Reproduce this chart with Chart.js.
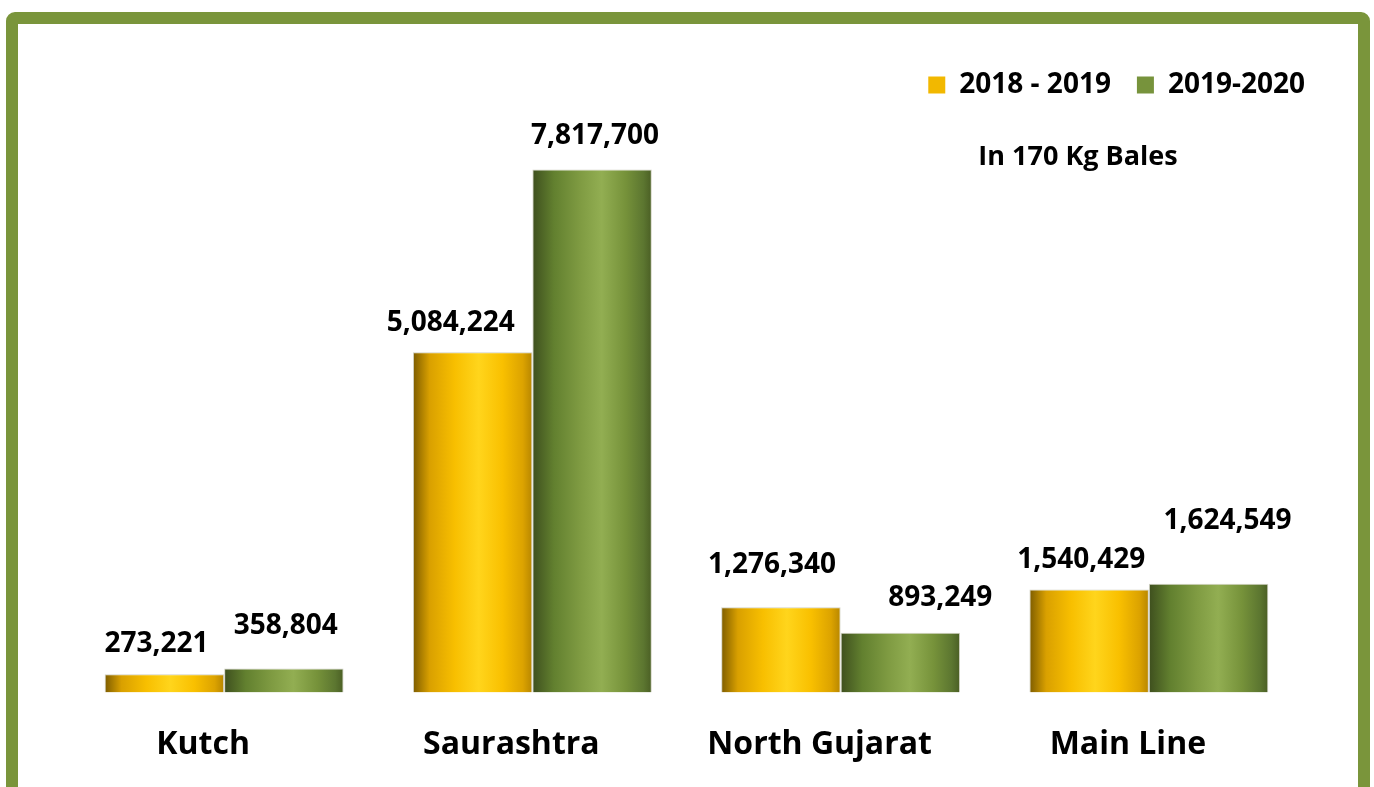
<!DOCTYPE html>
<html>
<head>
<meta charset="utf-8">
<script src="https://cdn.jsdelivr.net/npm/chart.js@4"></script>
<style>
  html, body { margin: 0; padding: 0; background: #fff; overflow: hidden; }
  #frame {
    position: absolute; left: 6px; top: 12px;
    width: 1340px; height: 820px;
    border: 12px solid #7a953b; border-radius: 9px;
    background: #fff;
  }
  #chart { position: absolute; left: 0; top: 0; }
</style>
</head>
<body>
<div id="frame"></div>
<canvas id="chart" width="1374" height="787"></canvas>
<script>
/* global Chart */
const regions = ['Kutch', 'Saurashtra', 'North Gujarat', 'Main Line'];
const season1 = [273221, 5084224, 1276340, 1540429];
const season2 = [358804, 7817700, 893249, 1624549];
const seriesNames = ['2018 - 2019', '2019-2020'];
const unitNote = 'In 170 Kg Bales';

// where each value label sits relative to the top-centre of its bar: [dx, dy above]
const labelNudge = [
  [[-8, 30], [-22, 29], [-9, 42], [-8, 29]],
  [[2, 43], [3, 33], [40, 35], [19, 63]]
];

const FONT = "'Open Sans', 'DejaVu Sans', sans-serif";
const CAT_PCT = 0.775;

const yellowStops = [[0, '#7d5c00'], [0.14, '#d9a000'], [0.35, '#f8bf00'], [0.55, '#ffd51c'], [0.75, '#f9c000'], [0.92, '#dca300'], [1, '#b78600']];
const greenStops = [[0, '#3e4f1e'], [0.18, '#62802f'], [0.4, '#7f9b42'], [0.58, '#92ae52'], [0.78, '#76923a'], [0.93, '#5c7630'], [1, '#4a5e24']];

// horizontal "cylinder" gradient for each bar, computed from the x scale
function barGradient(stops) {
  return function (ctx) {
    const chart = ctx.chart;
    const xs = chart.scales.x;
    if (!chart.chartArea || !xs) return stops[3][1];
    const n = regions.length;
    const catW = (xs.right - xs.left) / n;
    const barW = catW * CAT_PCT / 2;
    const center = xs.getPixelForValue(ctx.dataIndex);
    const left = center - catW * CAT_PCT / 2 + ctx.datasetIndex * barW;
    const g = chart.ctx.createLinearGradient(left, 0, left + barW, 0);
    stops.forEach(s => g.addColorStop(s[0], s[1]));
    return g;
  };
}

const valueLabels = {
  id: 'valueLabels',
  afterDatasetsDraw(chart) {
    const c = chart.ctx;
    c.save();
    c.font = 'bold 28px ' + FONT;
    c.fillStyle = '#000';
    c.textAlign = 'center';
    c.textBaseline = 'middle';
    chart.data.datasets.forEach((ds, di) => {
      chart.getDatasetMeta(di).data.forEach((el, i) => {
        const [dx, dy] = labelNudge[di][i];
        c.fillText(ds.data[i].toLocaleString('en-US'), el.x + dx, el.y - dy);
      });
    });
    c.restore();
  }
};

const unitText = {
  id: 'unitText',
  afterDraw(chart) {
    const c = chart.ctx;
    c.save();
    c.font = 'bold 27px ' + FONT;
    c.fillStyle = '#000';
    c.textAlign = 'center';
    c.textBaseline = 'middle';
    c.fillText(unitNote, chart.width - 296, 157);
    c.restore();
  }
};

// push the legend a little to the right, past the plot edge
const legendShift = {
  id: 'legendShift',
  afterLayout(chart) {
    if (chart.legend) {
      chart.legend.left += 28;
      chart.legend.right += 28;
    }
  }
};

new Chart(document.getElementById('chart').getContext('2d'), {
  type: 'bar',
  data: {
    labels: regions,
    datasets: [{
      label: seriesNames[0],
      data: season1,
      backgroundColor: barGradient(yellowStops),
      borderColor: 'rgba(205,205,190,0.9)',
      borderWidth: 1,
      legendColor: '#f2b800'
    }, {
      label: seriesNames[1],
      data: season2,
      backgroundColor: barGradient(greenStops),
      borderColor: 'rgba(205,205,190,0.9)',
      borderWidth: 1,
      legendColor: '#77933c'
    }]
  },
  options: {
    responsive: false,
    animation: false,
    devicePixelRatio: 1,
    barPercentage: 1,
    categoryPercentage: CAT_PCT,
    layout: { padding: { top: 45, left: 70, right: 71, bottom: -2 } },
    scales: {
      x: {
        grid: { display: false },
        border: { display: false },
        ticks: {
          color: '#000',
          padding: 25,
          labelOffset: -21,
          font: { family: FONT, size: 32, weight: 'bold' }
        }
      },
      y: {
        display: false,
        min: 0,
        max: 8720000
      }
    },
    plugins: {
      tooltip: { enabled: false },
      legend: {
        position: 'top',
        align: 'end',
        labels: {
          color: '#000',
          boxWidth: 17,
          boxHeight: 17,
          padding: 26,
          font: { family: FONT, size: 28, weight: 'bold' },
          generateLabels(chart) {
            return chart.data.datasets.map((ds, i) => ({
              text: ds.label,
              fillStyle: ds.legendColor,
              strokeStyle: ds.legendColor,
              lineWidth: 0,
              datasetIndex: i,
              fontColor: '#000'
            }));
          }
        }
      }
    }
  },
  plugins: [valueLabels, unitText, legendShift]
});
</script>
</body>
</html>
